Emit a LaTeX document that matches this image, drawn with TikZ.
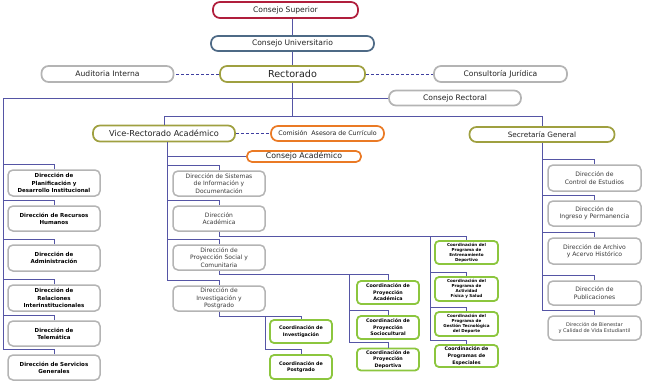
\documentclass[tikz,border=0pt]{standalone}
\usepackage{fontspec}
\setmainfont{DejaVu Sans}
\definecolor{lineblue}{HTML}{5555A5}
\definecolor{dashblue}{HTML}{3F3FA0}
\definecolor{crimson}{HTML}{B01E3C}
\definecolor{steel}{HTML}{4E6A86}
\definecolor{olivebox}{HTML}{9FA040}
\definecolor{greybox}{HTML}{B4B4B4}
\definecolor{orangebox}{HTML}{EA7A25}
\definecolor{limebox}{HTML}{8CC63E}
\definecolor{txt}{HTML}{222222}
\definecolor{txtgrey}{HTML}{3A3A3A}
\tikzset{
  box/.style={draw, fill=white, inner sep=0.5pt, align=center, text=txt},
  topbox/.style={box, line width=1.7pt, rounded corners=7pt, font=\fontsize{7.6}{9}\selectfont},
  gbox/.style={box, draw=greybox, line width=1.5pt, rounded corners=5pt, minimum width=92pt},
  lbox/.style={gbox, text=black, font=\fontsize{5.5}{7.3}\selectfont\bfseries},
  mbox/.style={gbox, text=txtgrey, font=\fontsize{6}{7.3}\selectfont},
  rbox/.style={gbox, minimum width=93pt, text=txtgrey, font=\fontsize{6.1}{7.3}\selectfont},
  cbox/.style={box, draw=limebox, line width=1.8pt, rounded corners=4pt, minimum width=62pt, text=black, font=\fontsize{4.8}{6.6}\selectfont\bfseries},
  csbox/.style={cbox, font=\fontsize{4.1}{5}\selectfont\bfseries},
  conn/.style={draw=lineblue, line width=0.95pt},
  dconn/.style={draw=dashblue, line width=1pt, dash pattern=on 3pt off 2pt},
}
\begin{document}
\begin{tikzpicture}[x=1pt,y=-1pt]
\useasboundingbox (0,0) rectangle (649,383);

\coordinate (b1) at (292.5,117);
\coordinate (lb) at (3,350);
\coordinate (mbtop) at (167,141.5);
\coordinate (rcb) at (430,236);
\coordinate (pcb) at (349,274);
\coordinate (icb) at (265,316);

% top level boxes
\node[topbox, draw=crimson, minimum width=145pt, minimum height=16pt] (cs) at (285.5,10) {Consejo Superior};
\node[topbox, draw=steel, minimum width=163pt, minimum height=15pt] (cu) at (292.5,43.5) {Consejo Universitario};
\node[topbox, draw=olivebox, minimum width=145pt, minimum height=16pt, font=\fontsize{9.6}{11}\selectfont] (r) at (292.5,74) {Rectorado};
\node[topbox, draw=greybox, minimum width=132pt, minimum height=16pt] (ai) at (107.5,74) {Auditoria Interna};
\node[topbox, draw=greybox, minimum width=133pt, minimum height=16pt] (cj) at (500.5,74) {Consultoría Jurídica};
\node[topbox, draw=greybox, minimum width=132pt, minimum height=15pt] (crect) at (455,98) {Consejo Rectoral};
\node[topbox, draw=olivebox, minimum width=142pt, minimum height=16pt, font=\fontsize{8.2}{10}\selectfont] (vr) at (164,133.5) {Vice-Rectorado Académico};
\node[topbox, draw=orangebox, minimum width=113pt, minimum height=15pt, font=\fontsize{6.3}{8}\selectfont] (cac) at (327.5,133.5) {Comisión\ \ Asesora de Currículo};
\node[topbox, draw=orangebox, minimum width=114pt, minimum height=11pt, rounded corners=5pt, font=\fontsize{7.8}{9}\selectfont] (ca) at (304,156.5) {Consejo Académico};
\node[topbox, draw=olivebox, minimum width=145pt, minimum height=15pt, font=\fontsize{7.3}{9}\selectfont] (sg) at (542,134.5) {Secretaría General};

% left column
\node[lbox, minimum height=26pt] (pl) at (54,183) {Dirección de\\Planificación y\\Desarrollo Institucional};
\node[lbox, minimum height=25pt] (rh) at (54,218.5) {Dirección de Recursos\\Humanos};
\node[lbox, minimum height=26pt] (ad) at (54,258) {Dirección de\\Administración};
\node[lbox, minimum height=26pt] (ri) at (54,298) {Dirección de\\Relaciones\\Interinstitucionales};
\node[lbox, minimum height=25pt] (te) at (54,333.5) {Dirección de\\Telemática};
\node[lbox, minimum height=25pt] (sv) at (54,367.5) {Dirección de Servicios\\Generales};

% middle column
\node[mbox, minimum height=25pt] (ds) at (219,183.5) {Dirección de Sistemas\\de Información y\\Documentación};
\node[mbox, minimum height=25pt] (da) at (219,218.5) {Dirección\\Académica};
\node[mbox, minimum height=25pt] (dp) at (219,257.5) {Dirección de\\Proyección Social y\\Comunitaria};
\node[mbox, minimum height=25pt] (di) at (219,298.5) {Dirección de\\Investigación y\\Postgrado};

% coordinations
\node[cbox, minimum height=23pt] (ci) at (301,331.5) {Coordinación de\\Investigación};
\node[cbox, minimum height=24pt] (cp) at (301,367) {Coordinación de\\Postgrado};
\node[cbox, minimum height=23pt] (pa) at (388,292.5) {Coordinación de\\Proyección\\Académica};
\node[cbox, minimum height=23pt] (ps) at (388,327.5) {Coordinación de\\Proyección\\Sociocultural};
\node[cbox, minimum height=22pt] (pd) at (388,359.5) {Coordinación de\\Proyección\\Deportiva};
\node[csbox, minimum width=63pt, minimum height=23pt] (ce) at (466.5,252.5) {Coordinación del\\Programa de\\Entrenamiento\\Deportivo};
\node[csbox, minimum width=63pt, minimum height=24pt] (af) at (466.5,289) {Coordinación del\\Programa de\\Actividad\\Física y Salud};
\node[csbox, minimum width=63pt, minimum height=24pt] (gt) at (466.5,324) {Coordinación del\\Programa de\\Gestión Tecnológica\\del Deporte};
\node[cbox, minimum width=63pt, minimum height=22pt] (pe) at (466.5,356) {Coordinación de\\Programas de\\Especiales};

% right column
\node[rbox, minimum height=26pt] (dce) at (594.5,178) {Dirección de\\Control de Estudios};
\node[rbox, minimum height=25pt] (dip) at (594.5,213.5) {Dirección de\\Ingreso y Permanencia};
\node[rbox, minimum height=26pt] (daa) at (594.5,251) {Dirección de Archivo\\y Acervo Histórico};
\node[rbox, minimum height=24pt] (dpu) at (594.5,293) {Dirección de\\Publicaciones};
\node[rbox, minimum height=24pt, font=\fontsize{5}{6}\selectfont] (dbi) at (594.5,328) {Dirección de Bienestar\\y Calidad de Vida Estudiantil};

% connectors
\path[conn] (cs.south -| cu.north) -- (cu.north);
\path[conn] (cu.south) -- (r.north);
\path[conn] (r.south) -- (b1);
\path[conn] (vr.north) -- ++(0,-8.5) -| (sg.north);
\path[conn] (crect.west) -| (lb);
\foreach \b in {pl,rh,ad,ri,te,sv} \path[conn] (\b.north) -- ++(0,-5) -| (lb);
\path[conn] (ca.west) -| (mbtop);
\foreach \b in {ds,da,dp,di} \path[conn] (\b.north) -- ++(0,-5) -| (mbtop);
\path[conn] (da.south) -- ++(0,5) -| (ce.north);
\foreach \b in {af,gt,pe} \path[conn] (\b.north) -- ++(0,-4) -| (rcb);
\path[conn] (dp.south) -- ++(0,4) -| (pa.north);
\foreach \b in {ps,pd} \path[conn] (\b.north) -- ++(0,-5) -| (pcb);
\path[conn] (di.south) -- ++(0,5) -| (ci.north);
\path[conn] (cp.north) -- ++(0,-5) -| (icb);
\foreach \b in {dce,dip,daa,dpu,dbi} \path[conn] (\b.north) -- ++(0,-5) -| (sg.south);
\path[dconn] (r.west) -- (ai.east);
\path[dconn] (r.east) -- (cj.west);
\path[dconn] (vr.east) -- (cac.west);
\end{tikzpicture}
\end{document}
